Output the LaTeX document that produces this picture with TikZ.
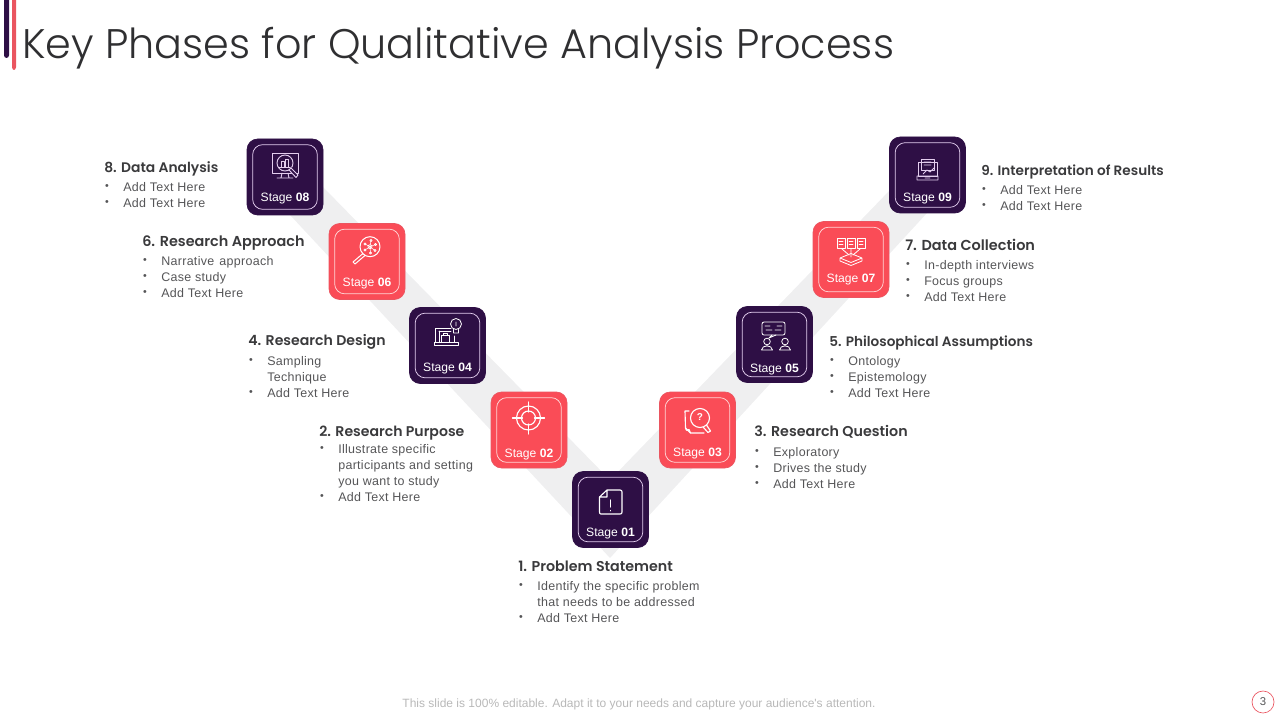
\documentclass[tikz,border=0pt]{standalone}
\usepackage{fontspec}
\setmainfont{Liberation Sans}
\newfontfamily\bodyf[LetterSpace=2.5]{Liberation Sans}
\newfontfamily\stagef{Liberation Sans}
\newfontfamily\headf{Poppins SemiBold}
\newfontfamily\titlef{Poppins Light}
\definecolor{darkbox}{HTML}{2E0F45}
\definecolor{redbox}{HTML}{FA4C57}
\definecolor{redrim}{HTML}{EA5560}
\definecolor{band}{HTML}{EFEFF0}
\definecolor{inktext}{HTML}{2F2F31}
\definecolor{headtext}{HTML}{3A3A3C}
\definecolor{bodytext}{HTML}{555557}
\definecolor{foot}{HTML}{B8B8B8}
\definecolor{lavender}{HTML}{E3CDEE}
\definecolor{pinkrim}{HTML}{FFD6D6}
\tikzset{
  x=0.75pt,y=-0.75pt,
  stagebox/.style={minimum width=57pt,minimum height=57pt,rounded corners=8pt,line width=.5pt,inner sep=0pt},
  darkstage/.style={stagebox,fill=darkbox,draw=darkbox},
  redstage/.style={stagebox,fill=redbox,draw=redrim},
  rimbox/.style={minimum width=48.5pt,minimum height=48.5pt,rounded corners=7.5pt,line width=.55pt,inner sep=0pt},
  darkrim/.style={rimbox,draw=lavender},
  redrimbox/.style={rimbox,draw=pinkrim},
  stagelabel/.style={text=white,font=\stagef\fontsize{9.1pt}{11pt}\selectfont,inner sep=0pt,anchor=base},
  heading/.style={anchor=base west,inner sep=0pt,text=headtext},
  bodyline/.style={anchor=base west,inner sep=0pt,text=bodytext,font=\bodyf\fontsize{9.35pt}{12pt}\selectfont},
  bulletmark/.style={anchor=center,inner sep=0pt,text=bodytext,font=\stagef\fontsize{8pt}{8pt}\selectfont},
  icon/.style={draw=white,line width=.85pt,line cap=round,line join=round,fill=none},
  fineicon/.style={draw=white,line width=.6pt,line cap=round,line join=round,fill=none},
  paleicon/.style={draw=lavender,line width=.55pt,line cap=round,line join=round,fill=none},
}
\newcommand{\stage}[7]{% name,x,y,style,rimstyle,number,label baseline
  \node[#4] (box#1) at (#2,#3) {};
  \node[#5] (rim#1) at (#2,#3) {};
  \node[stagelabel] (lab#1) at (#2,#7) {Stage \textbf{#6}};
}
\newcommand{\blt}[4]{\node[bulletmark] (b#1) at (#2,#4-4) {•};}
\newcommand{\txt}[4]{\node[bodyline] (t#1) at (#2,#3+4.5) {#4};}
\newcommand{\head}[5]{\node[heading,font=\headf\fontsize{#5pt}{13pt}\selectfont] (h#1) at (#2,#3+5.5) {#4};}
\begin{document}
\begin{tikzpicture}
\useasboundingbox (0,0) rectangle (1280,720);
\fill[darkbox,rounded corners=2pt] (4,-5) rectangle (9,58);
\fill[redrim,rounded corners=2pt] (12,-5) rectangle (16,70);
\node[anchor=base west,inner sep=0pt,text=inktext,font=\titlef\fontsize{31pt}{36pt}\selectfont] (title) at (22,59) {Key Phases for Qualitative Analysis Process};
% band
\fill[band] (290,215) -- (323,187) -- (610,480) -- (890,190) -- (927,213) -- (610,558) -- cycle;
% boxes
\stage{8}{285}{177}{darkstage}{darkrim}{08}{201.5}
\stage{6}{367}{261.5}{redstage}{redrimbox}{06}{286.5}
\stage{4}{447.5}{345.5}{darkstage}{darkrim}{04}{371.5}
\stage{2}{529}{430}{redstage}{redrimbox}{02}{457.5}
\stage{1}{610.5}{509.5}{darkstage}{darkrim}{01}{536.5}
\stage{3}{697.5}{430}{redstage}{redrimbox}{03}{456}
\stage{5}{774.5}{344.5}{darkstage}{darkrim}{05}{372}
\stage{7}{851}{259.5}{redstage}{redrimbox}{07}{282.5}
\stage{9}{927.5}{175}{darkstage}{darkrim}{09}{202}
% icon 01
\draw[icon] (607,490) -- (620,490) .. controls (621.5,490) and (622,491) .. (622,492) -- (622,512) .. controls (622,513.5) and (621.5,514) .. (620,514) -- (601,514) .. controls (600,514) and (599.5,513.5) .. (599.5,512) -- (599.5,497) -- cycle (607,490) -- (607,497) -- (599.5,497);
\draw[icon] (610.5,500) -- (610.5,507) (610.5,510.5) -- (610.5,510.8);
% icon 02
\draw[icon] (528.5,418) circle (12) (528.5,418) circle (7);
\draw[icon] (528.5,402) -- (528.5,412) (528.5,424) -- (528.5,434) (512.5,418) -- (522.5,418) (534.5,418) -- (544.5,418);
% icon 03
\draw[icon] (700,418) circle (9.5);
\draw[icon] (706.5,425) -- (710.5,431) -- (708,432.5) -- (703.5,427.5);
\draw[icon] (689,411) -- (685,411) -- (685.5,428) .. controls (686,431) and (688,431) .. (689,429.5) -- (690.5,433) -- (704,433);
\draw[icon] (685.5,428) -- (690.5,433);
\node[inner sep=0pt,text=white,font=\stagef\fontsize{7.5pt}{8pt}\selectfont\bfseries] (q3) at (700,417.5) {?};
% icon 04
\draw[fineicon] (435,342) -- (435,328) -- (451,328) (434,342) -- (458,342) -- (458,345) -- (434,345) -- cycle (454,336) -- (454,342);
\draw[fineicon] (439,331) -- (451,331) (439,331) -- (439,342);
\draw[fineicon] (441,335) rectangle (449,342) (443,335) -- (443,333) -- (447,333) -- (447,335);
\draw[fineicon] (456,324) circle (5.5) (453.5,329.5) -- (453.5,333) -- (458.5,333) -- (458.5,329.5) (456,322) -- (456,326);
% icon 05
\draw[fineicon,rounded corners=1.5pt] (762,322) rectangle (785,335);
\draw[fineicon] (765,326) -- (770,326) (777,326) -- (782,326) (766,330) -- (772,330) (775,330) -- (781,330) (772,335) -- (769,338) -- (776,335);
\draw[fineicon] (767,341.5) circle (3.3) (761.5,350) .. controls (762,344.5) and (772,344.5) .. (772.5,350) -- cycle;
\draw[fineicon] (785,341.5) circle (3.3) (779.5,350) .. controls (780,344.5) and (790,344.5) .. (790.5,350) -- cycle;
% icon 06
\draw[fineicon,line width=.75pt] (370,246.7) circle (10);
\draw[fineicon,line width=.75pt] (363,253.5) -- (353,262) -- (355,264) -- (365,255.5);
\draw[fineicon,line width=.5pt] (370,246.7) circle (2) (365,244) circle (1.2) (371,240.5) circle (1.2) (375.5,244.5) circle (1.2) (375,250.5) circle (1.2) (370.5,253) circle (1.2) (365,250) circle (1.2);
\draw[fineicon,line width=.4pt] (370,246.7) -- (365,244) (370,246.7) -- (371,240.5) (370,246.7) -- (375.5,244.5) (370,246.7) -- (375,250.5) (370,246.7) -- (370.5,253) (370,246.7) -- (365,250);
% icon 07
\draw[fineicon] (837,238) rectangle (845,248) (847,238) rectangle (855,248) (857,238) rectangle (865,248);
\draw[fineicon,line width=.4pt] (839,241) -- (843,241) (839,244) -- (843,244) (849,241) -- (853,241) (849,244) -- (853,244) (859,241) -- (863,241) (859,244) -- (863,244);
\draw[fineicon] (842,249) -- (849,255) (851,249) -- (851,257) (860,249) -- (853,255);
\draw[fineicon] (840,258) -- (851,253.5) -- (862,258) -- (851,262.5) -- cycle (840,258) -- (840,261) -- (851,265.5) -- (862,261) -- (862,258);
% icon 08
\draw[paleicon] (272,153) rectangle (298,173);
\draw[paleicon,line width=.7pt] (285,163) circle (8) (277,178) -- (293,178) (282,173) -- (281,178) (288,173) -- (289,178);
\draw[paleicon] (281,167) -- (281,161) -- (284,161) -- (284,167) (285.5,167) -- (285.5,159.5) -- (288.5,159.5) -- (288.5,167) (279,167) -- (291,167);
\fill[darkbox] (291,167) -- (298,175) -- (296,178) -- (289,170) -- cycle;
\draw[paleicon,line width=.7pt] (291,168) -- (298,175) -- (296,177.5) -- (289,170) -- cycle;
% icon 09
\draw[paleicon] (918,162) rectangle (937,176) (921,159) rectangle (934,170);
\draw[paleicon] (917,176) rectangle (938,180) (923,174) -- (927,170) -- (930,172) -- (934,168) (924,162) -- (931,162) (924,165) -- (931,165) (925,178) -- (930,178);
% text 8
\head{8}{104}{167}{8. Data Analysis}{10.4}
\blt{8a}{107}{123}{191}\txt{8a}{123}{187}{Add Text Here}
\blt{8b}{107}{123}{207}\txt{8b}{123}{203}{Add Text Here}
% text 9
\head{9}{981}{170}{9. Interpretation of Results}{10.2}
\blt{9a}{984}{1000}{194}\txt{9a}{1000}{190}{Add Text Here}
\blt{9b}{984}{1000}{210}\txt{9b}{1000}{206}{Add Text Here}
% text 6
\head{6}{142}{241}{6. Research Approach}{10.8}
\blt{6a}{145}{161}{265}\txt{6a}{161}{261}{Narrative\ \kern1pt approach}
\blt{6b}{145}{161}{281}\txt{6b}{161}{277}{Case study}
\blt{6c}{145}{161}{297}\txt{6c}{161}{293}{Add Text Here}
% text 7
\head{7}{905}{245}{7. Data Collection}{10.85}
\blt{7a}{908}{924}{269}\txt{7a}{924}{265}{In-depth interviews}
\blt{7b}{908}{924}{285}\txt{7b}{924}{281}{Focus groups}
\blt{7c}{908}{924}{301}\txt{7c}{924}{297}{Add Text Here}
% text 4
\head{4}{248}{340}{4. Research Design}{10.58}
\blt{4a}{251}{267}{365}\txt{4a}{267}{361}{Sampling}
\txt{4b}{267}{377}{Technique}
\blt{4c}{251}{267}{397}\txt{4c}{267}{393}{Add Text Here}
% text 5
\head{5}{829}{341}{5. Philosophical Assumptions}{10.2}
\blt{5a}{832}{848}{365}\txt{5a}{848}{361}{Ontology}
\blt{5b}{832}{848}{381}\txt{5b}{848}{377}{Epistemology}
\blt{5c}{832}{848}{397}\txt{5c}{848}{393}{Add Text Here}
% text 2
\head{2}{319}{431}{2. Research Purpose}{10.56}
\blt{2a}{322}{338}{453}\txt{2a}{338}{449}{Illustrate specific}
\txt{2b}{338}{465}{participants and setting}
\txt{2c}{338}{481}{you want to study}
\blt{2d}{322}{338}{501}\txt{2d}{338}{497}{Add Text Here}
% text 3
\head{3}{754}{431}{3. Research Question}{10.7}
\blt{3a}{757}{773}{456}\txt{3a}{773}{452}{Exploratory}
\blt{3b}{757}{773}{472}\txt{3b}{773}{468}{Drives the study}
\blt{3c}{757}{773}{488}\txt{3c}{773}{484}{Add Text Here}
% text 1
\head{1}{518}{566}{1. Problem Statement}{10.7}
\blt{1a}{521}{537}{590}\txt{1a}{537}{586}{Identify the specific problem}
\txt{1b}{537}{602}{that needs to be addressed}
\blt{1c}{521}{537}{622}\txt{1c}{537}{618}{Add Text Here}
% footer
\node[inner sep=0pt,text=foot,font=\stagef\fontsize{9pt}{11pt}\selectfont] (footer) at (639,704) {This slide is 100\% editable. Adapt it to your needs and capture your audience's attention.};
\node[circle,draw=redrim,line width=.5pt,minimum size=16.5pt,inner sep=0pt,text=bodytext,font=\stagef\fontsize{8.5pt}{10pt}\selectfont] (page) at (1263,702) {3};
\end{tikzpicture}
\end{document}
